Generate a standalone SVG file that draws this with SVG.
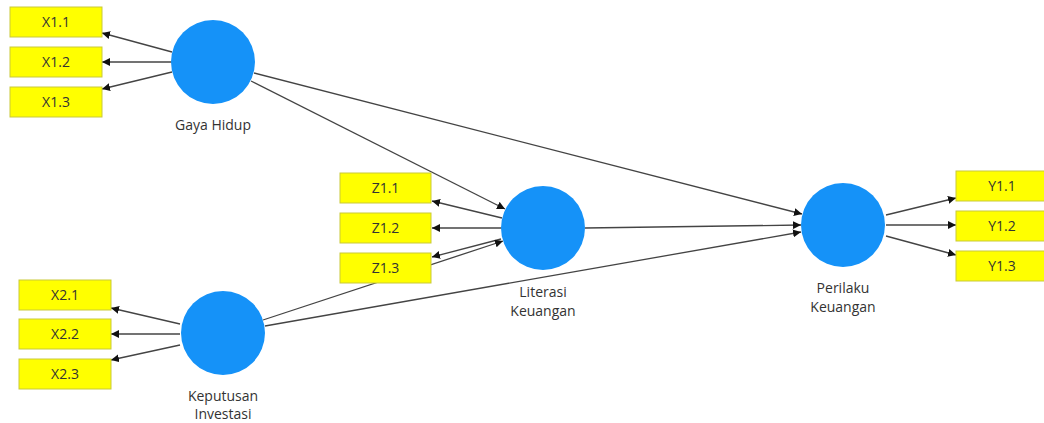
<svg xmlns="http://www.w3.org/2000/svg" width="1044" height="423" viewBox="0 0 1044 423">
<style>
.bx{fill:#ffff00;stroke:#c9c93a;stroke-width:1}
.bt{font-family:"Open Sans","Noto Sans",sans-serif;font-size:14px;fill:#333;text-anchor:middle}
.lv{fill:#1592f8}
.lt{font-family:"Open Sans","Noto Sans",sans-serif;font-size:14px;fill:#333;text-anchor:middle}
.c{stroke:#444;stroke-width:1.3;fill:none;marker-end:url(#ah)}
</style>
<defs>
<marker id="ah" viewBox="0 0 10 10" refX="10" refY="5" markerWidth="8" markerHeight="8" markerUnits="userSpaceOnUse" orient="auto">
<path d="M0,0 L10,5 L0,10 Z" fill="#111"/>
</marker>
</defs>
<rect width="1044" height="423" fill="#fff"/>
<g id="connectors">
<line class="c" x1="172" y1="52" x2="102" y2="33"/>
<line class="c" x1="172" y1="62" x2="102" y2="62"/>
<line class="c" x1="172" y1="72" x2="102" y2="89"/>
<line class="c" x1="251" y1="81" x2="505" y2="209"/>
<line class="c" x1="254" y1="73" x2="802" y2="214"/>
<line class="c" x1="502" y1="218" x2="432" y2="201"/>
<line class="c" x1="502" y1="228" x2="432" y2="228"/>
<line class="c" x1="501" y1="239" x2="432" y2="257"/>
<line class="c" x1="263" y1="320" x2="503" y2="241"/>
<line class="c" x1="265" y1="326" x2="801" y2="232"/>
<line class="c" x1="585" y1="228" x2="801" y2="225"/>
<line class="c" x1="180" y1="324" x2="111" y2="308"/>
<line class="c" x1="180" y1="334" x2="111" y2="334"/>
<line class="c" x1="180" y1="345" x2="111" y2="360"/>
<line class="c" x1="886" y1="215" x2="956" y2="198"/>
<line class="c" x1="886" y1="225" x2="956" y2="225"/>
<line class="c" x1="886" y1="236" x2="956" y2="255"/>
</g>
<g id="X1.1"><rect class="bx" x="10" y="7" width="92" height="30"/><text class="bt" x="56" y="27">X1.1</text></g>
<g id="X1.2"><rect class="bx" x="10" y="47" width="92" height="30"/><text class="bt" x="56" y="67">X1.2</text></g>
<g id="X1.3"><rect class="bx" x="10" y="87" width="92" height="30"/><text class="bt" x="56" y="107">X1.3</text></g>
<g id="GayaHidup"><circle class="lv" cx="213" cy="62" r="42"/><text class="lt" x="213" y="130">Gaya Hidup</text></g>
<g id="Z1.1"><rect class="bx" x="340" y="173" width="91" height="30"/><text class="bt" x="385.5" y="193">Z1.1</text></g>
<g id="Z1.2"><rect class="bx" x="340" y="213" width="91" height="30"/><text class="bt" x="385.5" y="233">Z1.2</text></g>
<g id="Z1.3"><rect class="bx" x="340" y="253" width="91" height="30"/><text class="bt" x="385.5" y="273">Z1.3</text></g>
<g id="LiterasiKeuangan"><circle class="lv" cx="543" cy="228" r="42"/><text class="lt" x="543" y="297">Literasi</text><text class="lt" x="543" y="316">Keuangan</text></g>
<g id="X2.1"><rect class="bx" x="19" y="280" width="92" height="30"/><text class="bt" x="65" y="300">X2.1</text></g>
<g id="X2.2"><rect class="bx" x="19" y="319" width="92" height="30"/><text class="bt" x="65" y="339">X2.2</text></g>
<g id="X2.3"><rect class="bx" x="19" y="359" width="92" height="30"/><text class="bt" x="65" y="379">X2.3</text></g>
<g id="KeputusanInvestasi"><circle class="lv" cx="223" cy="333" r="42"/><text class="lt" x="223" y="401">Keputusan</text><text class="lt" x="223" y="419">Investasi</text></g>
<g id="PerilakuKeuangan"><circle class="lv" cx="843" cy="225" r="42"/><text class="lt" x="843" y="293">Perilaku</text><text class="lt" x="843" y="312">Keuangan</text></g>
<g id="Y1.1"><rect class="bx" x="956" y="171" width="92" height="30"/><text class="bt" x="1002" y="191">Y1.1</text></g>
<g id="Y1.2"><rect class="bx" x="956" y="211" width="92" height="30"/><text class="bt" x="1002" y="231">Y1.2</text></g>
<g id="Y1.3"><rect class="bx" x="956" y="251" width="92" height="30"/><text class="bt" x="1002" y="271">Y1.3</text></g>
</svg>
